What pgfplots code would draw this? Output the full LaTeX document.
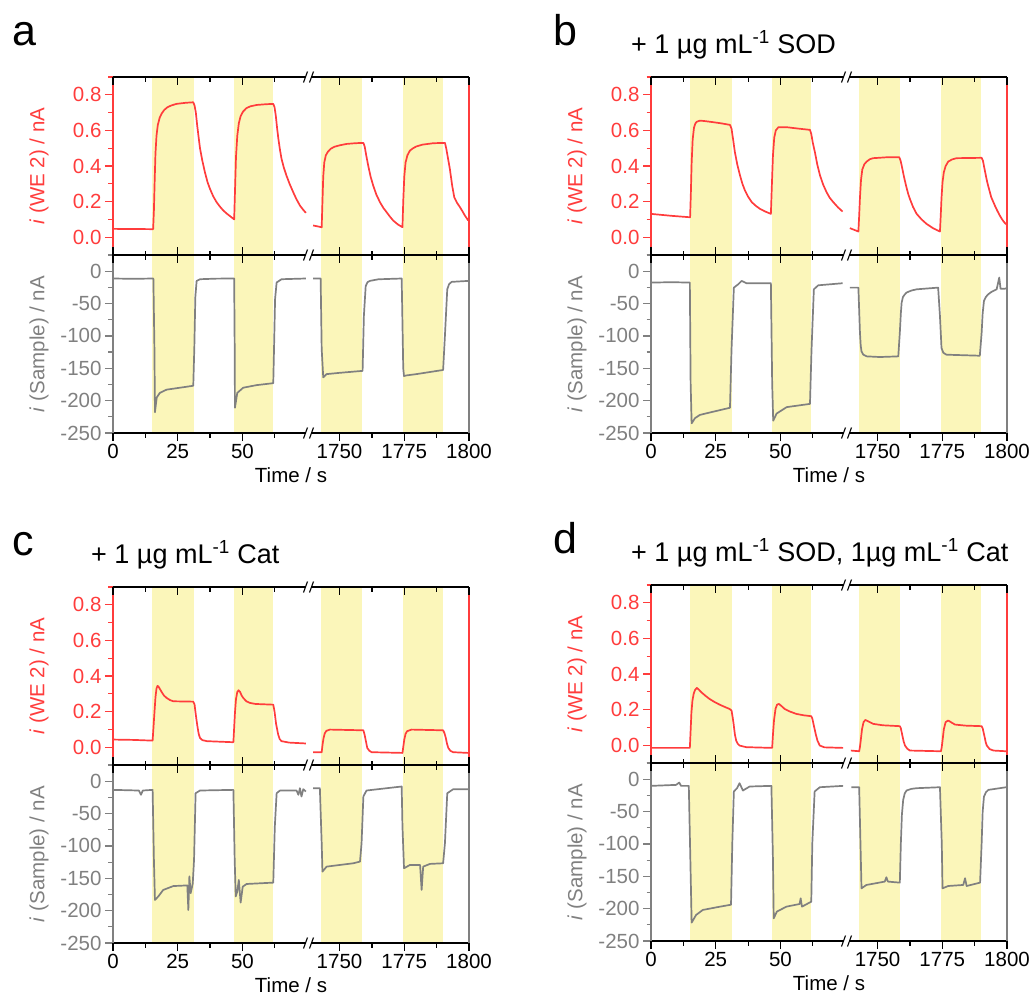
\documentclass[border=0pt]{standalone}
\usepackage{fontspec}
\setmainfont{Liberation Sans}
\usepackage{pgfplots}
\pgfplotsset{compat=1.18}
\definecolor{wered}{RGB}{255,60,60}
\definecolor{wgrey}{RGB}{128,128,128}
\definecolor{band}{RGB}{251,246,186}
\newcommand\tickfont{\fontsize{20.5}{23}\selectfont}
\newcommand\labfont{\fontsize{20.5}{23}\selectfont}
\newcommand\letfont{\fontsize{43}{48}\selectfont}
\newcommand\titfont{\fontsize{27}{31}\selectfont}
\pgfplotsset{
  base/.style={scale only axis, width=356pt, height=178pt, xmin=0, xmax=137.5, anchor=south west,
    x filter/.expression={x>1000 ? x-1662.5 : x},
    major tick length=8pt, minor tick length=4.5pt,
    every tick label/.append style={font=\tickfont}, axis on top},
  xt/.style={xtick={0,25,50,87.5,112.5,137.5}, minor xtick={12.5,37.5,62.5,100,125},
    ymin=0, ymax=1, ytick=\empty, axis line style={draw=none}, tick style={black,line width=1.2pt}},
  topmain/.style={base, ymin=-0.1, ymax=0.9, xtick=\empty,
    ytick={0,0.2,0.4,0.6,0.8}, yticklabels={0.0,0.2,0.4,0.6,0.8}, minor ytick={-0.1,0.1,0.3,0.5,0.7,0.9},
    ytick pos=left, tick align=outside, separate axis lines,
    x axis line style={black,line width=1.2pt}, y axis line style={wered,line width=1.2pt},
    tick style={wered,line width=1.2pt}, yticklabel style={text=wered},
    ylabel={\textit{i} (WE 2) / nA},
    every axis y label/.style={at={(axis description cs:-0.208,0.5)}, rotate=90, anchor=center, font=\labfont, text=wered}},
  botmain/.style={base, ymin=-250, ymax=25, xtick=\empty,
    ytick={-250,-200,-150,-100,-50,0}, yticklabels={-250,-200,-150,-100,-50,0}, minor ytick={-225,-175,-125,-75,-25,25},
    ytick pos=left, tick align=outside, separate axis lines,
    x axis line style={black,line width=1.2pt}, y axis line style={wgrey,line width=1.2pt},
    tick style={wgrey,line width=1.2pt}, yticklabel style={text=wgrey},
    ylabel={\textit{i} (Sample) / nA},
    every axis y label/.style={at={(axis description cs:-0.208,0.5)}, rotate=90, anchor=center, font=\labfont, text=wgrey}},
  topticks/.style={base, xt, tick align=inside, xtick pos=both, xticklabels={}},
  midticks/.style={base, xt, tick align=inside, xtick pos=right, xticklabels={}},
  botticks/.style={base, xt, tick align=outside, xtick pos=left, xticklabels={0,25,50,1750,1775,1800},
    xlabel={Time / s},
    every axis x label/.style={at={(axis description cs:0.5,0)}, anchor=center, yshift=-42pt, font=\labfont}},
  redline/.style={wered, line width=1.7pt, line join=round},
  greyline/.style={wgrey, line width=1.7pt, line join=round},
}
\newcommand\bandsT{%
  \addplot[draw=none,fill=band] coordinates {(15.2,-1)(15.2,2)(31.2,2)(31.2,-1)};
  \addplot[draw=none,fill=band] coordinates {(46.6,-1)(46.6,2)(61.8,2)(61.8,-1)};
  \addplot[draw=none,fill=band] coordinates {(1742.9,-1)(1742.9,2)(1758.7,2)(1758.7,-1)};
  \addplot[draw=none,fill=band] coordinates {(1774.4,-1)(1774.4,2)(1789.9,2)(1789.9,-1)};}
\newcommand\bandsB{%
  \addplot[draw=none,fill=band] coordinates {(15.2,-300)(15.2,100)(31.2,100)(31.2,-300)};
  \addplot[draw=none,fill=band] coordinates {(46.6,-300)(46.6,100)(61.8,100)(61.8,-300)};
  \addplot[draw=none,fill=band] coordinates {(1742.9,-300)(1742.9,100)(1758.7,100)(1758.7,-300)};
  \addplot[draw=none,fill=band] coordinates {(1774.4,-300)(1774.4,100)(1789.9,100)(1789.9,-300)};}
\newcommand\tickaxes[3]{%
  \begin{axis}[topticks, at={(#1pt,-#2pt)}]\end{axis}
  \begin{axis}[midticks, at={(#1pt,-#3pt)}]\end{axis}
  \begin{axis}[botticks, at={(#1pt,-#3pt)}]\end{axis}}
\newcommand\brk[2]{%
  \fill[white] ({#1pt-3pt},{-#2pt-1.6pt}) rectangle ({#1pt+2pt},{-#2pt+1.6pt});
  \draw[black,line width=1.1pt] ({#1pt-5.5pt},{-#2pt-5.5pt}) -- ({#1pt-1.5pt},{-#2pt+5.5pt});
  \draw[black,line width=1.1pt] ({#1pt+0.5pt},{-#2pt-5.5pt}) -- ({#1pt+4.5pt},{-#2pt+5.5pt});}
\begin{document}
\begin{tikzpicture}
\path[use as bounding box] (0pt,0pt) rectangle (1030pt,-1005pt);
% ================= panel a =================
\begin{axis}[topmain, at={(113pt,-255pt)}]
\bandsT
\addplot[redline] coordinates {(0,0.047)(5,0.046)(10,0.046)(15.5,0.045)(15.8,0.15)(16.1,0.32)(16.4,0.47)(16.8,0.57)(17.3,0.63)(18,0.67)(18.8,0.695)(19.8,0.715)(21,0.73)(22.5,0.74)(24.5,0.749)(28,0.755)(31,0.758)(31.5,0.74)(32,0.70)(32.5,0.63)(33,0.57)(33.6,0.50)(34.5,0.43)(35.5,0.365)(36.5,0.31)(37.5,0.27)(38.7,0.23)(40,0.197)(41.3,0.172)(42.6,0.15)(44,0.132)(45.5,0.115)(46.8,0.10)(47.1,0.25)(47.5,0.45)(48,0.57)(48.6,0.64)(49.3,0.68)(50.2,0.705)(51.5,0.725)(53,0.735)(55.5,0.743)(59,0.747)(61.9,0.749)(62.4,0.73)(62.9,0.68)(63.4,0.61)(63.9,0.55)(64.5,0.49)(65.1,0.44)(66,0.39)(67,0.346)(68.2,0.30)(69.6,0.253)(70.8,0.215)(72.2,0.178)(73.4,0.155)(74.5,0.137)};
\addplot[redline] coordinates {(1739.8,0.066)(1743.1,0.056)(1743.4,0.2)(1743.7,0.34)(1744.1,0.42)(1744.7,0.46)(1745.5,0.48)(1746.6,0.497)(1748,0.508)(1750,0.516)(1752.7,0.524)(1756,0.528)(1759.2,0.53)(1759.7,0.51)(1760.3,0.46)(1761.1,0.40)(1762,0.34)(1763,0.29)(1764.2,0.24)(1765.6,0.197)(1766.9,0.165)(1768.2,0.14)(1769.5,0.115)(1770.7,0.094)(1772.5,0.072)(1774.3,0.056)(1774.6,0.2)(1775,0.34)(1775.5,0.42)(1776.2,0.46)(1777.2,0.487)(1778.4,0.50)(1779.7,0.51)(1782,0.52)(1786.2,0.528)(1790.7,0.53)(1791.2,0.50)(1791.8,0.45)(1792.6,0.384)(1793.5,0.29)(1794.3,0.225)(1795.3,0.195)(1796.5,0.169)(1797.5,0.145)(1798.4,0.122)(1799.7,0.094)};
\end{axis}
\begin{axis}[botmain, at={(113pt,-433pt)}]
\bandsB
\addplot[greyline] coordinates {(0,-11.3)(8,-11.8)(15.6,-11.3)(16.0,-120)(16.2,-218)(16.9,-195)(18.1,-188)(20.7,-183)(25.9,-180)(31,-177)(31.4,-120)(31.8,-40)(32.3,-15)(33.6,-12.4)(40,-11.5)(46.8,-11.3)(47.0,-120)(47.1,-211)(48,-188)(50.3,-180)(55.5,-176)(61.9,-173)(62.3,-100)(62.6,-43)(63.2,-17.5)(65.1,-12.4)(74.5,-11.3)};
\addplot[greyline] coordinates {(1739.8,-11.3)(1742.7,-11.3)(1743.1,-120)(1743.7,-164)(1745,-159)(1750.1,-157)(1758.9,-154)(1759.4,-69)(1760.1,-23)(1760.8,-17)(1761.7,-15)(1765,-12.5)(1774,-11.3)(1774.6,-150)(1774.9,-162)(1775.9,-161)(1779.7,-159)(1790,-152.6)(1790.7,-100)(1791.6,-28)(1792.3,-20)(1793.3,-16.5)(1799.7,-15)};
\end{axis}
\tickaxes{113}{255}{433}
% ================= panel b =================
\begin{axis}[topmain, at={(651pt,-255pt)}]
\bandsT
\addplot[redline] coordinates {(0,0.131)(8,0.12)(15.1,0.112)(15.4,0.25)(15.7,0.42)(16.1,0.55)(16.6,0.615)(17.1,0.638)(17.6,0.648)(18.9,0.655)(21,0.652)(24.1,0.646)(27,0.64)(30.5,0.631)(31.1,0.61)(31.7,0.55)(32.4,0.478)(33.3,0.41)(34.4,0.346)(35.3,0.30)(36.3,0.262)(37.5,0.228)(38.9,0.197)(40.5,0.176)(42.1,0.159)(44,0.145)(46.3,0.131)(46.7,0.30)(47.1,0.46)(47.6,0.56)(48.2,0.60)(49.2,0.618)(52.4,0.618)(57,0.61)(61.4,0.603)(61.9,0.58)(62.5,0.53)(63.3,0.478)(64.2,0.41)(65.3,0.346)(66.5,0.295)(67.8,0.253)(69,0.222)(70.4,0.197)(72.2,0.168)(74,0.144)};
\addplot[redline] coordinates {(1739.3,0.051)(1742.6,0.032)(1742.9,0.12)(1743.2,0.22)(1743.6,0.32)(1744.1,0.38)(1744.9,0.41)(1745.8,0.425)(1747,0.438)(1748.3,0.444)(1753.5,0.449)(1758.4,0.449)(1758.9,0.43)(1759.5,0.39)(1760.2,0.34)(1761,0.29)(1761.8,0.245)(1762.5,0.215)(1763.7,0.17)(1765.1,0.131)(1767,0.1)(1768.9,0.075)(1771.5,0.05)(1774.1,0.032)(1774.4,0.12)(1774.7,0.22)(1775.1,0.31)(1775.6,0.365)(1776.3,0.40)(1777.3,0.425)(1778.8,0.437)(1780.5,0.444)(1790.2,0.446)(1790.7,0.43)(1791.5,0.37)(1792.2,0.32)(1792.7,0.29)(1793.9,0.225)(1795.3,0.178)(1796.2,0.15)(1797.2,0.122)(1798.2,0.098)(1799.2,0.079)(1800,0.07)};
\end{axis}
\begin{axis}[botmain, at={(651pt,-433pt)}]
\bandsB
\addplot[greyline] coordinates {(0,-17.6)(8,-17)(15,-17.6)(15.3,-173)(15.7,-235)(17,-227)(18.9,-222)(24.1,-217)(30.5,-211)(31.1,-121)(32,-25.4)(33.7,-20.2)(35,-15)(36.9,-18.6)(46.3,-18.6)(46.8,-173)(47.2,-231)(48.5,-220)(52.4,-210)(61.4,-205)(62,-121)(62.9,-28)(64.6,-21.8)(74,-18.6)};
\addplot[greyline] coordinates {(1739.3,-25.4)(1742.6,-25.4)(1743.2,-95)(1743.5,-115)(1743.8,-124)(1744.5,-129)(1745.8,-131.6)(1750.9,-132.6)(1758,-131.6)(1758.6,-95)(1759,-65)(1759.3,-48.7)(1759.8,-40)(1760.5,-36)(1761.2,-33)(1763,-30)(1765.1,-28)(1773.4,-25.4)(1774.1,-69.4)(1774.7,-118.7)(1775.4,-126)(1776.6,-129)(1789.5,-130.6)(1790.2,-95)(1790.6,-65)(1791.1,-46)(1791.8,-40)(1792.7,-35.8)(1794,-32)(1796,-28)(1797,-9.8)(1797.5,-27)(1799.2,-27)(1800,-26)};
\end{axis}
\tickaxes{651}{255}{433}
% ================= panel c =================
\begin{axis}[topmain, at={(113pt,-765pt)}]
\bandsT
\addplot[redline] coordinates {(0,0.043)(8,0.041)(15.3,0.037)(16,0.193)(16.4,0.28)(16.8,0.33)(17.2,0.345)(17.6,0.34)(18.2,0.325)(18.8,0.31)(19.7,0.29)(20.7,0.277)(22,0.265)(23.3,0.258)(31,0.256)(31.5,0.24)(32,0.18)(32.6,0.118)(33.1,0.075)(33.6,0.052)(34.5,0.04)(36.2,0.034)(46.5,0.028)(47.1,0.193)(47.5,0.27)(48,0.31)(48.5,0.32)(49.1,0.31)(49.7,0.29)(50.3,0.277)(51.5,0.258)(52.9,0.249)(55,0.243)(61.9,0.239)(62.4,0.2)(63,0.13)(63.8,0.071)(64.4,0.045)(65.1,0.034)(68,0.026)(74.5,0.021)};
\addplot[redline] coordinates {(1739.8,-0.028)(1743.1,-0.028)(1743.4,0.01)(1743.8,0.05)(1744.3,0.078)(1744.9,0.092)(1746.3,0.099)(1759.2,0.095)(1759.6,0.075)(1760.1,0.04)(1760.7,-0.004)(1761.5,-0.02)(1762.4,-0.028)(1774.3,-0.032)(1774.6,0.0)(1775,0.043)(1775.5,0.075)(1776.1,0.09)(1777.8,0.099)(1790,0.095)(1790.5,0.08)(1791,0.055)(1791.5,0.02)(1792,-0.004)(1792.8,-0.02)(1793.9,-0.028)(1799.7,-0.032)};
\end{axis}
\begin{axis}[botmain, at={(113pt,-943pt)}]
\bandsB
\addplot[greyline] coordinates {(0,-13.4)(10,-14.4)(10.8,-21)(11.5,-14.4)(15.3,-13.4)(15.8,-121.6)(16.2,-183.5)(17.5,-178)(19.4,-168)(23.3,-162)(28.7,-161)(29.1,-199)(29.5,-147)(30,-173)(30.8,-158)(31.3,-121.6)(31.9,-18.6)(33.6,-14.4)(46.5,-13.4)(47,-121.6)(47.4,-178)(48,-170.6)(48.6,-152.6)(49.3,-187.6)(50.1,-163)(51.6,-158.8)(61.9,-156.7)(62.5,-70)(63.2,-18.6)(64.5,-14.4)(70.9,-14.4)(71.6,-21)(72.2,-10.8)(72.8,-23.7)(73.5,-12.4)(74.5,-16)};
\addplot[greyline] coordinates {(1739.8,-10.8)(1742.4,-10.8)(1743.1,-95.9)(1743.4,-139.7)(1745,-132)(1750.1,-129.4)(1755.3,-126.8)(1757.9,-124.2)(1758.5,-95.9)(1759.2,-23.7)(1760.4,-14.4)(1774,-8.2)(1774.3,-70)(1774.9,-134.5)(1777.2,-129.4)(1781.1,-129.4)(1781.7,-168)(1782.3,-132)(1784.9,-127.8)(1790,-126.8)(1790.7,-95.9)(1791.6,-18.6)(1793.9,-12.4)(1799.7,-12.4)};
\end{axis}
\tickaxes{113}{765}{943}
% ================= panel d =================
\begin{axis}[topmain, at={(651pt,-763pt)}]
\bandsT
\addplot[redline] coordinates {(0,-0.015)(15,-0.015)(15.3,0.08)(15.6,0.18)(16,0.25)(16.5,0.29)(17,0.31)(17.7,0.322)(18.5,0.312)(19.4,0.298)(21,0.278)(22.6,0.26)(24.5,0.243)(26.5,0.228)(28.5,0.215)(30.3,0.204)(31.1,0.195)(31.5,0.16)(31.9,0.12)(32.4,0.06)(32.9,0.026)(33.5,0.008)(34.2,-0.002)(36.8,-0.011)(46.8,-0.015)(47.1,0.06)(47.5,0.139)(48.1,0.205)(48.7,0.228)(49.4,0.232)(50.4,0.22)(51.6,0.204)(53.5,0.19)(56.1,0.176)(59,0.168)(61.9,0.163)(62.3,0.15)(62.9,0.11)(63.6,0.064)(64.3,0.025)(65.2,-0.002)(67,-0.012)(74.2,-0.015)};
\addplot[redline] coordinates {(1739.7,-0.03)(1742.9,-0.034)(1743.2,-0.01)(1743.5,0.026)(1744,0.09)(1744.6,0.13)(1745.3,0.142)(1746.3,0.135)(1748.3,0.12)(1752,0.112)(1758.6,0.107)(1759,0.095)(1759.5,0.06)(1760.1,0.02)(1760.6,-0.002)(1761.5,-0.02)(1762.5,-0.03)(1774.5,-0.034)(1774.8,-0.01)(1775.1,0.026)(1775.6,0.09)(1776.3,0.13)(1777.3,0.139)(1778.5,0.128)(1779.9,0.116)(1784,0.11)(1790.2,0.107)(1790.6,0.095)(1791.3,0.05)(1791.8,0.015)(1792.2,-0.002)(1793.3,-0.022)(1794.8,-0.03)(1799.7,-0.034)};
\end{axis}
\begin{axis}[botmain, at={(651pt,-941pt)}]
\bandsB
\addplot[greyline] coordinates {(0,-10.3)(9.7,-8.8)(10.9,-5.2)(11.6,-10.3)(14.6,-10.3)(15.2,-124.7)(15.7,-221.6)(17.4,-209.8)(20,-202)(25.2,-198)(30.3,-194.3)(30.9,-194)(31.4,-99)(32,-19)(33.2,-14)(34.2,-6.2)(35.5,-17.5)(38.1,-11.3)(46.5,-10.3)(47.1,-124.7)(47.4,-215)(48.6,-204.6)(52.3,-196.9)(57.4,-192.8)(57.8,-184)(58.3,-196.9)(61.9,-189.2)(62.3,-99)(63.2,-19)(65.2,-12.4)(74.2,-10.3)};
\addplot[greyline] coordinates {(1739.9,-12.4)(1742.9,-12.4)(1743.4,-99)(1743.8,-168.6)(1745.7,-163.4)(1752.8,-158.2)(1753.4,-151.5)(1754,-158.2)(1758.6,-159.8)(1759,-99)(1759.4,-55)(1759.9,-32)(1760.5,-22)(1761.2,-17.5)(1763,-15)(1765.1,-13.9)(1774.1,-12.4)(1774.8,-99)(1775.1,-168.6)(1777.3,-165)(1783.1,-163.4)(1783.8,-153)(1784.4,-165)(1789.6,-159.8)(1790.2,-99)(1790.6,-50)(1791.1,-26.8)(1791.9,-20)(1792.8,-16.5)(1799.7,-12.4)};
\end{axis}
\tickaxes{651}{763}{941}
% ================= breaks =================
\brk{309}{77}\brk{309}{255}\brk{309}{433}
\brk{847}{77}\brk{847}{255}\brk{847}{433}
\brk{309}{587}\brk{309}{765}\brk{309}{943}
\brk{847}{585}\brk{847}{763}\brk{847}{941}
% ================= letters and titles =================
\node[anchor=base west, font=\letfont, inner sep=0pt] at (12pt,-45pt) {a};
\node[anchor=base west, font=\letfont, inner sep=0pt] at (553pt,-45pt) {b};
\node[anchor=base west, font=\letfont, inner sep=0pt] at (12pt,-555pt) {c};
\node[anchor=base west, font=\letfont, inner sep=0pt] at (553pt,-553pt) {d};
\node[anchor=base west, font=\titfont, inner sep=0pt] at (631pt,-53pt) {+ 1 µg mL\textsuperscript{-1} SOD};
\node[anchor=base west, font=\titfont, inner sep=0pt] at (91pt,-563pt) {+ 1 µg mL\textsuperscript{-1} Cat};
\node[anchor=base west, font=\titfont, inner sep=0pt] at (631pt,-561pt) {+ 1 µg mL\textsuperscript{-1} SOD, 1µg mL\textsuperscript{-1} Cat};
\end{tikzpicture}
\end{document}
